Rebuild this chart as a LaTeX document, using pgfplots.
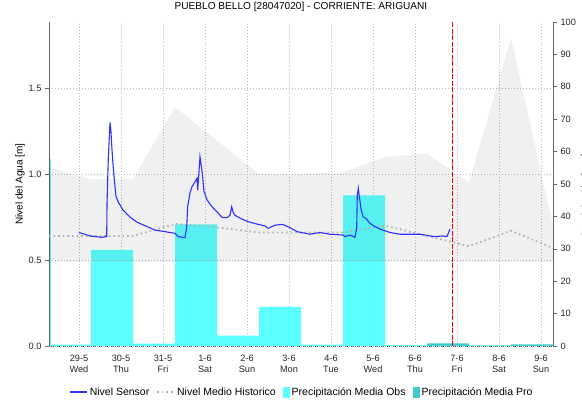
\documentclass[border=0pt]{standalone}
\usepackage{fontspec}
\setmainfont{Liberation Sans}
\usepackage{pgfplots}
\pgfplotsset{compat=1.18}
\definecolor{obscyan}{RGB}{92,255,255}
\definecolor{proteal}{RGB}{64,204,204}
\definecolor{histgray}{RGB}{178,178,178}
\definecolor{sensorblue}{RGB}{48,48,255}
\definecolor{gridgray}{RGB}{185,185,185}
\definecolor{axgray}{RGB}{100,100,100}
\begin{document}
\begin{tikzpicture}
\pgfplotsset{
  common/.style={
    scale only axis, width=504bp, height=324bp,
    xmin=-0.714, xmax=11.286,
    tick align=outside, major tick length=4bp,
    every tick/.style={axgray, line width=0.6bp},
    /pgf/number format/assume math mode=true,
    tick label style={font=\fontsize{9.2bp}{10.8bp}\selectfont, text=black!85},
    grid style={gridgray, line width=0.8bp, dash pattern=on 1bp off 2bp},
    x axis line style={-}, y axis line style={-},
  },
  rectlegend/.style={legend image code/.code={\fill[##1] (0bp,-5.5bp) rectangle (7bp,5.5bp);}},
}
% ---------- precipitation axis (right) ----------
\begin{axis}[common,
  ymin=0, ymax=100,
  axis y line*=right,
  axis x line*=bottom,
  x axis line style={black!75, line width=0.7bp, dash pattern=on 1bp off 1bp},
  y axis line style={axgray, line width=0.8bp},
  ytick={0,10,...,100},
  xtick={0,...,11},
  xticklabels={29-5\\Wed, 30-5\\Thu, 31-5\\Fri, 1-6\\Sat, 2-6\\Sun, 3-6\\Mon, 4-6\\Tue, 5-6\\Wed, 6-6\\Thu, 7-6\\Fri, 8-6\\Sat, 9-6\\Sun},
  xticklabel style={align=center, yshift=-1.5bp},
  xtick style={draw=none},
  xmajorgrids,
  ylabel={Precipitación [mm]},
  ylabel style={at={(axis description cs:1.0496,0.466)}, anchor=north, font=\fontsize{10bp}{12bp}\selectfont},
]
\addplot[ybar interval, fill=obscyan, draw=obscyan, line width=3bp] coordinates {(-1.714,57.4)(-0.714,0)};
\addplot[ybar interval, fill=obscyan, draw=none] coordinates {
(-0.714,0.4)(0.286,29.7)(1.286,0.7)(2.286,37.5)(3.286,3.2)(4.286,12.1)(5.286,0.4)(6.286,46.5)(7.286,0.3)(8.286,0.3)(9.286,0.2)(10.286,0)};
\addplot[ybar interval, fill=proteal, draw=none] coordinates {
(8.286,0.8)(9.286,0.15)(10.286,0.5)(11.286,0)};
\end{axis}
% ---------- water level axis (left) ----------
\begin{axis}[common,
  ymin=0, ymax=1.884,
  axis y line*=left,
  axis x line=none,
  y axis line style={axgray, line width=0.8bp},
  ytick={0,0.5,1,1.5},
  yticklabel style={/pgf/number format/.cd, fixed, fixed zerofill, precision=1},
  ymajorgrids,
  ylabel={Nivel del Agua [m]},
  ylabel style={at={(axis description cs:-0.0575,0.5)}, anchor=center, font=\fontsize{10bp}{12bp}\selectfont},
  title={PUEBLO BELLO [28047020] - CORRIENTE: ARIGUANI},
  title style={at={(axis description cs:0.5,1)}, anchor=base, yshift=7bp, font=\fontsize{10.1bp}{12bp}\selectfont},
  legend style={at={(axis description cs:0.502,-0.142)}, anchor=center, draw=none, fill=none,
    font=\fontsize{10.5bp}{12bp}\selectfont, /tikz/every even column/.append style={column sep=5bp}},
  legend columns=4,
]
\addlegendimage{line legend, color=sensorblue, line width=1.2bp}
\addlegendentry{Nivel Sensor}
\addlegendimage{line legend, color=histgray, line width=1.8bp, dash pattern=on 1.6bp off 3bp}
\addlegendentry{Nivel Medio Historico}
\addlegendimage{rectlegend, fill=obscyan, draw=none}
\addlegendentry{Precipitación Media Obs}
\addlegendimage{rectlegend, fill=proteal, draw=none}
\addlegendentry{Precipitación Media Pro}
% historical range band
\addplot[forget plot, fill=black, fill opacity=0.06, draw=none] coordinates {
(-0.714,0.49)(-0.714,1.04)(0.286,0.97)(1.286,0.97)(2.286,1.39)(4.286,1.0)(5.286,1.0)(6.286,1.01)(7.286,1.10)(8.286,1.12)(9.286,0.95)(10.286,1.79)(11.286,0.70)(11.286,0.49)};
% historical mean
\addplot[forget plot, histgray, line width=1.8bp, dash pattern=on 1.6bp off 3bp] coordinates {
(-0.714,0.64)(1.286,0.64)(2.286,0.71)(3.286,0.69)(4.286,0.66)(5.286,0.66)(6.286,0.66)(7.286,0.70)(8.286,0.64)(9.286,0.58)(10.286,0.67)(11.286,0.57)};
% sensor level
\addplot[forget plot, sensorblue, line width=1.1bp] coordinates {
(0.000,0.66)(0.262,0.64)(0.540,0.632)(0.660,0.636)(0.667,0.826)(0.698,1.09)(0.738,1.30)(0.762,1.245)(0.786,1.14)(0.826,1.006)(0.881,0.87)(0.929,0.84)(1.048,0.79)(1.214,0.75)(1.381,0.72)(1.571,0.70)(1.810,0.674)(2.048,0.665)(2.286,0.655)(2.364,0.636)(2.524,0.63)(2.564,0.69)(2.588,0.81)(2.643,0.89)(2.690,0.926)(2.762,0.955)(2.810,0.975)(2.826,0.907)(2.857,1.013)(2.881,1.10)(2.905,1.06)(2.936,1.004)(2.976,0.90)(3.048,0.85)(3.167,0.81)(3.286,0.78)(3.405,0.748)(3.524,0.746)(3.595,0.76)(3.636,0.81)(3.667,0.78)(3.714,0.76)(3.881,0.738)(4.024,0.723)(4.238,0.709)(4.429,0.698)(4.500,0.684)(4.667,0.703)(4.857,0.707)(5.024,0.688)(5.190,0.665)(5.500,0.65)(5.738,0.66)(5.976,0.65)(6.286,0.645)(6.333,0.636)(6.452,0.645)(6.571,0.632)(6.612,0.686)(6.626,0.878)(6.650,0.917)(6.674,0.868)(6.714,0.80)(6.762,0.752)(6.833,0.742)(6.929,0.713)(7.048,0.694)(7.167,0.68)(7.286,0.67)(7.405,0.66)(7.643,0.65)(8.119,0.65)(8.357,0.64)(8.476,0.636)(8.667,0.64)(8.762,0.636)(8.833,0.68)};
% current time marker
\addplot[forget plot, red, line width=0.9bp, dash pattern=on 5bp off 1.5bp] coordinates {(8.88,0)(8.88,1.884)};
\end{axis}
\pgfresetboundingbox
\path[use as bounding box] ([xshift=-49bp,yshift=-55bp]current axis.south west) rectangle ([xshift=29bp,yshift=22bp]current axis.north east);
\end{tikzpicture}
\end{document}
